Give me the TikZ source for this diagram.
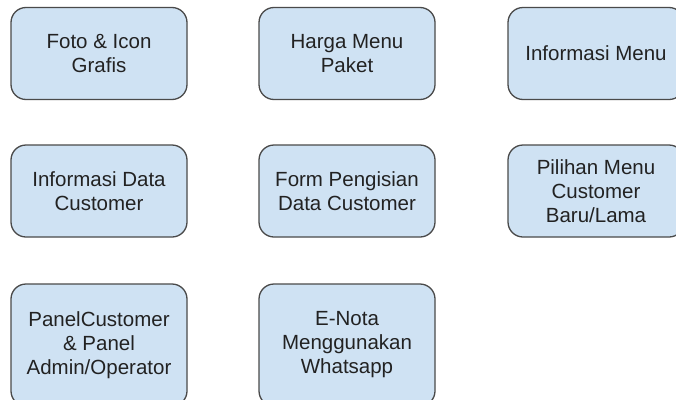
\documentclass[tikz,border=0pt]{standalone}
\usepackage{fontspec}
\setmainfont{Liberation Sans}
\definecolor{boxfill}{HTML}{CFE2F3}
\definecolor{boxline}{HTML}{4A4A4A}
\definecolor{txt}{HTML}{222222}
\begin{document}
\begin{tikzpicture}[x=1pt,y=-1pt,
  card/.style={draw=boxline,fill=boxfill,line width=1.3pt,rounded corners=15pt,
    minimum width=176pt,minimum height=92pt,align=center,text=txt,
    font=\fontsize{20.5pt}{24pt}\selectfont,inner sep=0pt},
  tallcard/.style={card,minimum height=122pt}]
\useasboundingbox (0,0) rectangle (676,399);
\clip (0,0) rectangle (676,399);
\fill[white] (0,0) rectangle (676,399);
\node[card] (foto) at (99,53.5) {Foto \& Icon\\Grafis};
\node[card] (harga) at (347,53.5) {Harga Menu\\Paket};
\node[card] (info) at (596,53.5) {Informasi Menu};
\node[card] (data) at (99,191) {Informasi Data\\Customer};
\node[card] (form) at (347,191) {Form Pengisian\\Data Customer};
\node[card] (pilih) at (596,191) {Pilihan Menu\\Customer\\Baru/Lama};
\node[tallcard] (panel) at (99,345) {PanelCustomer\\\& Panel\\Admin/Operator};
\node[tallcard] (nota) at (347,345) {E-Nota\\Menggunakan\\Whatsapp};
\end{tikzpicture}
\end{document}
